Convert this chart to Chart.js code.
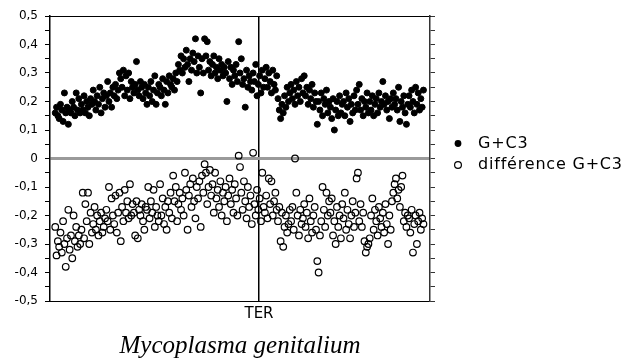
<!DOCTYPE html>
<html>
<head>
<meta charset="utf-8">
<script src="https://cdn.jsdelivr.net/npm/chart.js@4.4.1/dist/chart.umd.min.js"></script>
<style>
  html, body { margin: 0; padding: 0; background: #fff; }
  canvas { display: block; }
</style>
</head>
<body>
<canvas id="chart" width="640" height="359"></canvas>
<script>
// Window centres along the chromosome (kb)
const positionsKb = [
  8,10,12,14,16,18,20,22,24,26,
  28,30,32,34,36,38,40,42,44,46,
  48,50,52,54,56,58,60,62,64,66,
  68,70,72,74,76,78,80,82,84,86,
  88,90,92,94,96,98,100,102,104,106,
  108,110,112,114,116,118,120,122,124,126,
  128,130,132,134,136,138,140,142,144,146,
  148,150,152,154,156,158,160,162,164,166,
  168,170,172,174,176,178,180,182,184,186,
  188,190,192,194,196,198,200,202,204,206,
  208,210,212,214,216,218,220,222,224,226,
  228,230,232,234,236,238,240,242,244,246,
  248,250,252,254,256,258,260,262,264,266,
  268,270,272,274,276,278,280,282,284,286,
  288,290,292,294,296,298,300,302,304,306,
  308,310,312,314,316,318,320,322,324,326,
  328,330,332,334,336,338,340,342,344,346,
  348,350,352,354,356,358,360,362,364,366,
  368,370,372,374,376,378,380,382,384,386,
  388,390,392,394,396,398,400,402,404,406,
  408,410,412,414,416,418,420,422,424,426,
  428,430,432,434,436,438,440,442,444,446,
  448,450,452,454,456,458,460,462,464,466,
  468,470,472,474,476,478,480,482,484,486,
  488,490,492,494,496,498,500,502,504,506,
  508,510,512,514,516,518,520,522,524,526,
  528,530,532,534,536,538,540,542,544,546,
  548,550,552,554,556,558,560,562,564,566,
  568,570
];

// G+C content at third codon positions
const gc3 = [
  0.16,0.18,0.15,0.14,0.19,0.17,0.13,0.23,0.16,0.18,
  0.12,0.17,0.16,0.20,0.18,0.15,0.23,0.17,0.21,0.16,
  0.19,0.17,0.22,0.16,0.20,0.18,0.15,0.21,0.19,0.24,
  0.20,0.17,0.22,0.19,0.25,0.16,0.21,0.23,0.18,0.22,
  0.27,0.20,0.23,0.18,0.25,0.22,0.26,0.21,0.24,0.30,
  0.28,0.25,0.31,0.22,0.29,0.24,0.30,0.21,0.27,0.25,
  0.23,0.26,0.34,0.24,0.22,0.27,0.25,0.21,0.26,0.23,
  0.19,0.25,0.22,0.27,0.20,0.24,0.29,0.19,0.23,0.26,
  0.25,0.22,0.28,0.24,0.19,0.27,0.23,0.29,0.26,0.25,
  0.28,0.24,0.30,0.27,0.33,0.31,0.36,0.30,0.35,0.32,
  0.38,0.33,0.27,0.35,0.31,0.37,0.34,0.42,0.30,0.36,
  0.32,0.23,0.35,0.30,0.42,0.36,0.41,0.31,0.34,0.29,
  0.33,0.36,0.30,0.32,0.28,0.35,0.31,0.33,0.29,0.32,
  0.30,0.20,0.34,0.28,0.32,0.26,0.31,0.29,0.33,0.27,
  0.41,0.30,0.35,0.26,0.28,0.18,0.31,0.25,0.29,0.27,
  0.24,0.30,0.27,0.33,0.22,0.26,0.29,0.23,0.31,0.25,
  0.28,0.32,0.25,0.30,0.27,0.23,0.31,0.26,0.24,0.29,
  0.21,0.17,0.14,0.19,0.16,0.22,0.18,0.25,0.20,0.23,
  0.26,0.21,0.24,0.19,0.27,0.22,0.25,0.20,0.28,0.23,
  0.29,0.22,0.25,0.19,0.24,0.21,0.26,0.18,0.23,0.20,
  0.12,0.20,0.17,0.23,0.15,0.21,0.19,0.24,0.16,0.20,
  0.18,0.14,0.21,0.10,0.17,0.20,0.15,0.22,0.16,0.19,
  0.20,0.15,0.23,0.18,0.21,0.13,0.19,0.16,0.22,0.17,
  0.24,0.19,0.26,0.17,0.21,0.15,0.20,0.18,0.23,0.16,
  0.20,0.17,0.22,0.15,0.19,0.21,0.16,0.23,0.18,0.20,
  0.27,0.19,0.22,0.17,0.20,0.14,0.21,0.18,0.23,0.19,
  0.21,0.17,0.25,0.13,0.20,0.18,0.22,0.16,0.12,0.19,
  0.22,0.18,0.24,0.20,0.16,0.25,0.19,0.23,0.17,0.21,
  0.18,0.24
];

// Difference in G+C3 between strands
const gc3Diff = [
  -0.24,-0.34,-0.29,-0.31,-0.26,-0.33,-0.22,-0.30,-0.38,-0.28,
  -0.18,-0.32,-0.27,-0.35,-0.20,-0.29,-0.24,-0.31,-0.27,-0.30,
  -0.25,-0.12,-0.28,-0.16,-0.22,-0.12,-0.30,-0.19,-0.26,-0.23,
  -0.17,-0.25,-0.20,-0.27,-0.22,-0.19,-0.26,-0.24,-0.21,-0.18,
  -0.22,-0.10,-0.25,-0.14,-0.20,-0.23,-0.13,-0.26,-0.19,-0.12,
  -0.29,-0.17,-0.22,-0.11,-0.19,-0.15,-0.21,-0.09,-0.20,-0.16,
  -0.19,-0.27,-0.15,-0.28,-0.18,-0.20,-0.16,-0.22,-0.25,-0.17,
  -0.18,-0.10,-0.21,-0.15,-0.19,-0.11,-0.24,-0.17,-0.20,-0.22,
  -0.09,-0.20,-0.14,-0.23,-0.17,-0.25,-0.15,-0.19,-0.12,-0.21,
  -0.06,-0.15,-0.10,-0.22,-0.16,-0.12,-0.18,-0.14,-0.20,-0.05,
  -0.11,-0.25,-0.13,-0.09,-0.17,-0.07,-0.15,-0.21,-0.10,-0.14,
  -0.08,-0.24,-0.06,-0.12,-0.02,-0.05,-0.16,-0.10,-0.04,-0.13,
  -0.09,-0.19,-0.05,-0.14,-0.11,-0.17,-0.08,-0.20,-0.12,-0.15,
  -0.10,-0.22,-0.13,-0.07,-0.16,-0.11,-0.19,-0.09,-0.14,-0.20,
   0.01,-0.03,-0.12,-0.18,-0.08,-0.15,-0.21,-0.10,-0.17,-0.13,
  -0.23, 0.02,-0.16,-0.20,-0.11,-0.18,-0.14,-0.22,-0.05,-0.17,
  -0.19,-0.13,-0.21,-0.07,-0.16,-0.08,-0.20,-0.15,-0.12,-0.18,
  -0.22,-0.17,-0.29,-0.19,-0.31,-0.24,-0.20,-0.26,-0.23,-0.18,
  -0.22,-0.17,-0.25, 0.00,-0.12,-0.20,-0.27,-0.18,-0.23,-0.21,
  -0.16,-0.24,-0.19,-0.28,-0.14,-0.22,-0.26,-0.20,-0.17,-0.25,
  -0.36,-0.40,-0.27,-0.22,-0.10,-0.18,-0.24,-0.12,-0.20,-0.15,
  -0.19,-0.14,-0.27,-0.22,-0.30,-0.17,-0.24,-0.20,-0.28,-0.16,
  -0.21,-0.12,-0.25,-0.18,-0.23,-0.28,-0.20,-0.15,-0.24,-0.19,
  -0.07,-0.05,-0.22,-0.16,-0.24,-0.19,-0.29,-0.33,-0.31,-0.30,
  -0.28,-0.20,-0.14,-0.25,-0.18,-0.22,-0.27,-0.17,-0.21,-0.24,
  -0.19,-0.26,-0.16,-0.23,-0.30,-0.20,-0.25,-0.15,-0.12,-0.09,
  -0.07,-0.14,-0.11,-0.17,-0.10,-0.06,-0.22,-0.19,-0.24,-0.20,
  -0.21,-0.26,-0.18,-0.33,-0.23,-0.20,-0.30,-0.22,-0.19,-0.25,
  -0.21,-0.23
];

const seriesNames = ['G+C3', 'différence G+C3'];
const terminusKb = 319;
const terminusLabel = 'TER';
const genomeKb = 580;
const yTickStep = 0.05;
const yRange = [-0.5, 0.5];
const organism = 'Mycoplasma genitalium';

const toPoints = ys => ys.map((y, i) => ({ x: positionsKb[i], y }));

const isZero = v => Math.abs(v) < 1e-9;
const isMajor = v => Math.abs(Math.round(v * 20)) % 2 === 0;
const fmtTick = v => isZero(v) ? '0' : (Math.round(v * 10) / 10).toFixed(1).replace('.', ',');

// Legend drawn at the right of the plot
const sideLegend = {
  id: 'sideLegend',
  afterDraw(chart) {
    const ctx = chart.ctx;
    const x0 = chart.chartArea.right + 28;
    const rows = [chart.chartArea.top + 127.5, chart.chartArea.top + 149];
    ctx.save();
    ctx.font = '16px "DejaVu Sans"';
    if ('letterSpacing' in ctx) ctx.letterSpacing = '0.8px';
    ctx.fillStyle = '#000';
    ctx.strokeStyle = '#000';
    ctx.textBaseline = 'middle';
    chart.data.datasets.forEach((ds, i) => {
      const y = rows[i];
      ctx.beginPath();
      ctx.arc(x0, y, 3.4, 0, Math.PI * 2);
      if (i === 0) { ctx.fill(); } else { ctx.lineWidth = 1.2; ctx.stroke(); }
      ctx.fillText(ds.label, x0 + 20, y);
    });
    ctx.restore();
  }
};

new Chart(document.getElementById('chart'), {
  type: 'scatter',
  data: {
    datasets: [
      {
        label: seriesNames[0],
        data: toPoints(gc3),
        pointRadius: 3,
        pointBorderWidth: 1,
        backgroundColor: '#000',
        borderColor: '#000'
      },
      {
        label: seriesNames[1],
        data: toPoints(gc3Diff),
        pointRadius: 3.3,
        pointBorderWidth: 1.2,
        backgroundColor: 'rgba(0,0,0,0)',
        borderColor: '#000'
      }
    ]
  },
  options: {
    responsive: false,
    animation: false,
    devicePixelRatio: 1,
    layout: { padding: { left: 0, top: 16, right: 205, bottom: 0 } },
    plugins: {
      legend: { display: false },
      tooltip: { enabled: false },
      title: {
        display: true,
        position: 'bottom',
        fullSize: false,
        text: organism,
        color: '#000',
        font: { family: '"Liberation Serif", "Times New Roman", serif', style: 'italic', weight: 'normal', size: 25, lineHeight: 1.0 },
        padding: { top: 0, bottom: 0 }
      }
    },
    scales: {
      x: {
        type: 'linear',
        position: 'bottom',
        min: 0,
        max: genomeKb,
        afterBuildTicks: s => { s.ticks = [{ value: terminusKb }]; },
        afterFit: s => { s.height = 33; },
        ticks: {
          callback: () => terminusLabel,
          color: '#000',
          padding: 4,
          maxRotation: 0,
          font: { family: '"DejaVu Sans"', size: 15 }
        },
        grid: {
          drawOnChartArea: true,
          drawTicks: false,
          color: '#000',
          lineWidth: 1.5
        },
        border: { display: true, color: '#000', width: 1 }
      },
      xTop: {
        type: 'linear',
        position: 'top',
        min: 0,
        max: genomeKb,
        afterBuildTicks: s => { s.ticks = []; },
        afterFit: s => { s.height = 0; },
        ticks: { display: false },
        grid: { drawOnChartArea: false, drawTicks: false },
        border: { display: true, color: '#000', width: 1 }
      },
      y: {
        type: 'linear',
        position: 'left',
        min: yRange[0],
        max: yRange[1],
        afterFit: s => { s.width = 50; },
        ticks: {
          stepSize: yTickStep,
          autoSkip: false,
          padding: 7,
          color: '#000',
          font: { family: '"DejaVu Sans"', size: 12 },
          callback: v => isMajor(v) ? fmtTick(v) : ''
        },
        grid: {
          drawOnChartArea: true,
          drawTicks: true,
          tickLength: 5,
          tickColor: '#000',
          tickWidth: 1,
          color: c => (c.tick && isZero(c.tick.value)) ? '#9a9a9a' : 'rgba(0,0,0,0)',
          lineWidth: c => (c.tick && isZero(c.tick.value)) ? 3 : 1
        },
        border: { display: true, color: '#000', width: 1.5 }
      },
      yRight: {
        type: 'linear',
        position: 'right',
        min: yRange[0],
        max: yRange[1],
        afterFit: s => { s.width = 5; },
        ticks: {
          stepSize: yTickStep,
          autoSkip: false,
          padding: 0,
          callback: () => ''
        },
        grid: {
          drawOnChartArea: false,
          drawTicks: true,
          tickLength: 5,
          tickColor: '#333',
          tickWidth: 1
        },
        border: { display: true, color: '#333', width: 1.5 }
      }
    }
  },
  plugins: [sideLegend]
});
</script>
</body>
</html>
